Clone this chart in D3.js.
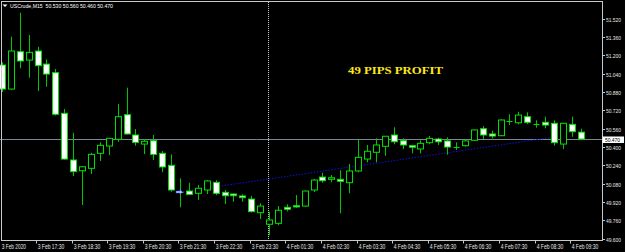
<!DOCTYPE html>
<html>
<head>
<meta charset="utf-8">
<script src="https://cdn.jsdelivr.net/npm/d3@7"></script>
<style>
    html, body { margin: 0; padding: 0; background: #000; }
    svg { display: block; }
    text { font-family: "Liberation Sans", Arial, sans-serif; }
</style>
</head>
<body>
<svg id="chart" width="625" height="252"></svg>
<script>
// USCrude M15, 3 Feb 16:30 -> 4 Feb 09:45
const symbolInfo = "USCrude,M15  50.530 50.560 50.460 50.470";

const opens = [
    51.116, 50.906, 51.232, 51.159, 51.238, 51.124, 51.049, 50.694, 50.287, 50.193,
    50.214, 50.345, 50.409, 50.467, 50.682, 50.505, 50.426, 50.455, 50.345, 50.240,
    50.010, 50.016, 49.996, 50.025, 50.092, 50.005, 49.990, 49.973, 49.946, 49.827,
    49.726, 49.734, 49.874, 49.888, 49.885, 50.025, 50.138, 50.118, 50.118, 50.089,
    50.191, 50.295, 50.354, 50.406, 50.505, 50.455, 50.412, 50.383, 50.438, 50.470,
    50.453, 50.403, 50.412, 50.459, 50.560, 50.514, 50.499, 50.630, 50.612, 50.665,
    50.605, 50.616, 50.607, 50.426, 50.598, 50.530
];
const highs = [
    51.140, 51.363, 51.572, 51.378, 51.275, 51.165, 51.081, 50.732, 50.525, 50.230,
    50.350, 50.441, 50.480, 50.775, 50.918, 50.557, 50.470, 50.505, 50.365, 50.336,
    50.127, 50.089, 50.069, 50.112, 50.110, 50.025, 49.995, 49.987, 49.973, 49.909,
    49.836, 49.885, 49.900, 49.981, 50.020, 50.121, 50.176, 50.156, 50.198, 50.252,
    50.467, 50.418, 50.476, 50.497, 50.572, 50.476, 50.415, 50.459, 50.496, 50.481,
    50.485, 50.441, 50.470, 50.553, 50.583, 50.542, 50.641, 50.686, 50.708, 50.703,
    50.633, 50.665, 50.633, 50.610, 50.665, 50.560
];
const lows = [
    50.880, 50.900, 51.087, 51.005, 50.889, 50.926, 50.675, 50.290, 50.147, 49.894,
    50.165, 50.278, 50.330, 50.446, 50.510, 50.412, 50.339, 50.287, 50.180, 50.010,
    49.874, 49.984, 49.938, 49.990, 49.980, 49.903, 49.923, 49.923, 49.830, 49.772,
    49.630, 49.717, 49.839, 49.870, 49.880, 50.007, 50.089, 50.092, 49.822, 49.996,
    50.180, 50.267, 50.267, 50.324, 50.424, 50.383, 50.345, 50.345, 50.424, 50.418,
    50.333, 50.374, 50.403, 50.455, 50.471, 50.476, 50.495, 50.592, 50.598, 50.601,
    50.569, 50.563, 50.412, 50.383, 50.490, 50.460
];
const closes = [
    50.906, 51.238, 51.151, 51.226, 51.110, 51.037, 50.686, 50.295, 50.185, 50.228,
    50.336, 50.415, 50.476, 50.665, 50.514, 50.441, 50.450, 50.336, 50.226, 50.025,
    50.005, 49.987, 50.040, 50.104, 49.996, 49.975, 49.975, 49.958, 49.836, 49.885,
    49.763, 49.848, 49.857, 49.877, 50.016, 50.112, 50.106, 50.132, 50.101, 50.191,
    50.310, 50.363, 50.418, 50.494, 50.446, 50.418, 50.398, 50.432, 50.476, 50.446,
    50.400, 50.403, 50.453, 50.549, 50.505, 50.496, 50.636, 50.630, 50.679, 50.616,
    50.605, 50.592, 50.438, 50.607, 50.534, 50.470
];

const xTickBars = [0, 4, 8, 12, 16, 20, 24, 28, 32, 36, 40, 44, 48, 52, 56, 60, 64];
const xTickLabels = [
    "3 Feb 2020", "3 Feb 17:30", "3 Feb 18:30", "3 Feb 19:30", "3 Feb 20:30",
    "3 Feb 21:30", "3 Feb 22:30", "3 Feb 23:30", "4 Feb 01:30", "4 Feb 02:30",
    "4 Feb 03:30", "4 Feb 04:30", "4 Feb 05:30", "4 Feb 06:30", "4 Feb 07:30",
    "4 Feb 08:30", "4 Feb 09:30"
];
const yTicks = [49.60, 49.76, 49.92, 50.08, 50.24, 50.40, 50.56, 50.72, 50.88, 51.04, 51.20, 51.36, 51.52];

const bidPrice = 50.470;
const daySeparatorBar = 30;          // 4 Feb 01:00, first bar of the day
const tradeBars = [20, 62];          // open / close bar
const tradePrices = [50.007, 50.487];
const noteText = "49 PIPS PROFIT";

const svg = d3.select("#chart");
const W = 625, H = 252;

const x = d3.scaleLinear().domain([0, opens.length - 1]).range([1.9, 580.7]);
const y = d3.scaleLinear().domain([49.6, 51.52]).range([238.7, 18.7]);

svg.append("rect").attr("width", W).attr("height", H).attr("fill", "#000");

svg.append("defs").append("clipPath").attr("id", "plotClip")
    .append("rect").attr("x", 0).attr("y", 2).attr("width", 602).attr("height", 238);

const plot = svg.append("g").attr("clip-path", "url(#plotClip)");

// bid line
plot.append("line")
    .attr("x1", 0).attr("x2", 602)
    .attr("y1", Math.round(y(bidPrice)) + 0.5).attr("y2", Math.round(y(bidPrice)) + 0.5)
    .attr("stroke", "#778899").attr("stroke-width", 1);

// period separator
const sepX = Math.floor(x(daySeparatorBar)) - 0.5;
plot.append("line")
    .attr("x1", sepX).attr("x2", sepX)
    .attr("y1", 2).attr("y2", 240)
    .attr("stroke", "#c8c8c8").attr("stroke-width", 1)
    .attr("stroke-dasharray", "1,1");

// trade line
plot.append("line")
    .attr("x1", x(tradeBars[0])).attr("y1", y(tradePrices[0]))
    .attr("x2", x(tradeBars[1])).attr("y2", y(tradePrices[1]))
    .attr("stroke", "#1010e0").attr("stroke-width", 1)
    .attr("stroke-dasharray", "1.5,1.5");

const bars = opens.map((o, i) => ({ i: i, o: o, h: highs[i], l: lows[i], c: closes[i] }));

// wicks
plot.append("g")
    .selectAll("line")
    .data(bars)
    .enter().append("line")
    .attr("x1", d => Math.round(x(d.i)) + 0.5)
    .attr("x2", d => Math.round(x(d.i)) + 0.5)
    .attr("y1", d => y(d.h))
    .attr("y2", d => y(d.l))
    .attr("stroke", "#00c800")
    .attr("stroke-width", 1);

// bodies
plot.append("g")
    .selectAll("rect")
    .data(bars.filter(d => Math.abs(y(d.o) - y(d.c)) >= 1))
    .enter().append("rect")
    .attr("x", d => Math.round(x(d.i)) - 2.5)
    .attr("width", 6)
    .attr("y", d => y(Math.max(d.o, d.c)))
    .attr("height", d => y(Math.min(d.o, d.c)) - y(Math.max(d.o, d.c)))
    .attr("fill", d => d.c > d.o ? "#000" : "#fff")
    .attr("stroke", "#00e000")
    .attr("stroke-width", 1);

// doji bars
plot.append("g")
    .selectAll("line")
    .data(bars.filter(d => Math.abs(y(d.o) - y(d.c)) < 1))
    .enter().append("line")
    .attr("x1", d => Math.round(x(d.i)) - 2.5)
    .attr("x2", d => Math.round(x(d.i)) + 3.5)
    .attr("y1", d => Math.round(y(d.c)) + 0.5)
    .attr("y2", d => Math.round(y(d.c)) + 0.5)
    .attr("stroke", "#00e000")
    .attr("stroke-width", 1);

// trade open arrow
const ax = x(tradeBars[0]), ay = y(tradePrices[0]);
plot.append("path")
    .attr("d", `M${ax - 4},${ay - 1} L${ax},${ay - 1} L${ax},${ay - 2.5} L${ax + 2.5},${ay} L${ax},${ay + 2.5} L${ax},${ay + 1} L${ax - 4},${ay + 1} Z`)
    .attr("fill", "#b8c8ff")
    .attr("stroke", "#3040ff")
    .attr("stroke-width", 0.5);

// note text
svg.append("text")
    .attr("x", 348).attr("y", 74.3)
    .attr("textLength", 95).attr("lengthAdjust", "spacingAndGlyphs")
    .style("font-family", "'Liberation Serif', 'Times New Roman', serif")
    .style("font-weight", "bold")
    .style("font-size", "11px")
    .attr("fill", "#ffe81a")
    .text(noteText);

// frame
svg.append("rect")
    .attr("x", 1.5).attr("y", 1.5)
    .attr("width", 601).attr("height", 239)
    .attr("fill", "none")
    .attr("stroke", "#c8c8c8").attr("stroke-width", 1);

// y axis
const yAxis = svg.append("g");
yTicks.forEach(v => {
    const yy = Math.round(y(v)) + 0.5;
    yAxis.append("line")
        .attr("x1", 602).attr("x2", 605)
        .attr("y1", yy).attr("y2", yy)
        .attr("stroke", "#c8c8c8");
    yAxis.append("text")
        .attr("x", 606).attr("y", yy + 2)
        .attr("textLength", 15).attr("lengthAdjust", "spacingAndGlyphs")
        .style("font-size", "6px")
        .attr("fill", "#e8e8e8")
        .text(d3.format(".3f")(v));
});

// bid price label
const by = Math.round(y(bidPrice)) + 0.5;
svg.append("rect")
    .attr("x", 602.5).attr("y", by - 3)
    .attr("width", 21.5).attr("height", 6.5)
    .attr("fill", "#fff");
svg.append("text")
    .attr("x", 605).attr("y", by + 2.2)
    .attr("textLength", 15).attr("lengthAdjust", "spacingAndGlyphs")
    .style("font-size", "6px")
    .attr("fill", "#000")
    .text(d3.format(".3f")(bidPrice));

// x axis
const xAxis = svg.append("g");
xTickBars.forEach((b, j) => {
    const tx = Math.floor(x(b)) - 0.5;
    if (j > 0) {
        xAxis.append("line")
            .attr("x1", tx).attr("x2", tx)
            .attr("y1", 240).attr("y2", 243.5)
            .attr("stroke", "#c8c8c8");
    }
    xAxis.append("text")
        .attr("x", Math.max(tx + 1.2, 1.7)).attr("y", 249)
        .attr("textLength", j === 0 ? 24.3 : 26.6).attr("lengthAdjust", "spacingAndGlyphs")
        .style("font-size", "6.5px")
        .attr("fill", "#e8e8e8")
        .text(xTickLabels[j]);
});

// header
svg.append("path")
    .attr("d", "M2.5,4.5 L7.5,4.5 L5,7 Z")
    .attr("fill", "#fff");
svg.append("text")
    .attr("x", 10).attr("y", 8.3)
    .attr("textLength", 103).attr("lengthAdjust", "spacingAndGlyphs")
    .style("font-size", "6px")
    .attr("fill", "#fff")
    .attr("xml:space", "preserve")
    .text(symbolInfo);
</script>
</body>
</html>
